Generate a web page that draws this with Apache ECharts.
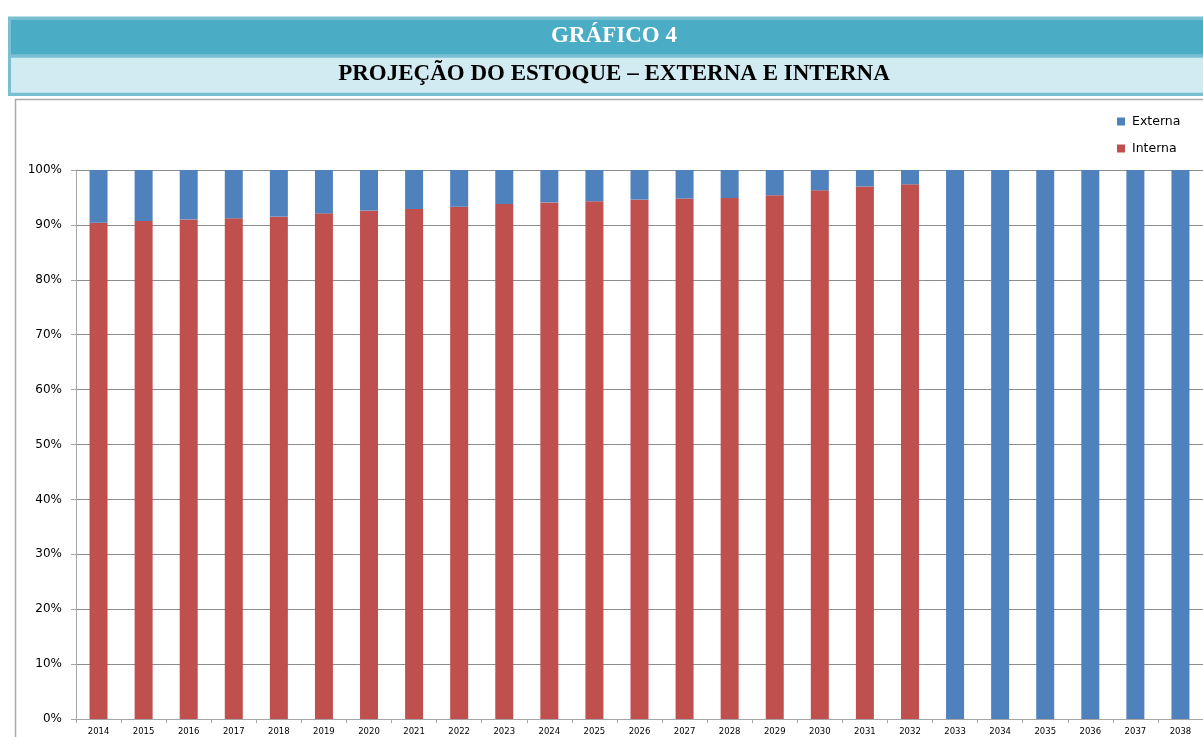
<!DOCTYPE html>
<html>
<head>
<meta charset="utf-8">
<script src="https://cdn.jsdelivr.net/npm/echarts@6/dist/echarts.min.js"></script>
<style>
html,body{margin:0;padding:0;background:#fff;}
#chart{width:1203px;height:737px;}
</style>
</head>
<body>
<div id="chart"></div>
<script>
const years = ['2014','2015','2016','2017','2018','2019','2020','2021','2022','2023','2024','2025','2026','2027','2028','2029','2030','2031','2032','2033','2034','2035','2036','2037','2038'];
const interna = [90.4,90.7,91.0,91.2,91.5,92.1,92.6,92.9,93.3,93.8,94.1,94.3,94.6,94.8,94.9,95.4,96.3,97.0,97.4,0,0,0,0,0,0];
const externa = [9.6,9.3,9.0,8.8,8.5,7.9,7.4,7.1,6.7,6.2,5.9,5.7,5.4,5.2,5.1,4.6,3.7,3.0,2.6,100,100,100,100,100,100];
const yTicks = [0,10,20,30,40,50,60,70,80,90,100];
const titleMain = 'GRÁFICO 4';
const titleSub = 'PROJEÇÃO DO ESTOQUE – EXTERNA E INTERNA';

const chart = echarts.init(document.getElementById('chart'), null, {renderer:'canvas'});
const option = {
  animation:false,
  backgroundColor:'#ffffff',
  graphic:[
    {type:'rect', shape:{x:8,y:16.5,width:1210,height:79.5}, style:{fill:'#78BFD2'}, silent:true},
    {type:'rect', shape:{x:11,y:20,width:1210,height:34.3}, style:{fill:'#4BACC6'}, silent:true},
    {type:'rect', shape:{x:11,y:57.7,width:1210,height:35}, style:{fill:'#D2EAF1'}, silent:true},
    {type:'text', x:614, y:36, style:{text:titleMain, fill:'#ffffff', font:'bold 23px "Liberation Serif", "DejaVu Serif", serif', textAlign:'center', textVerticalAlign:'middle'}, silent:true},
    {type:'text', x:614, y:74, style:{text:titleSub, fill:'#000000', font:'bold 23px "Liberation Serif", "DejaVu Serif", serif', textAlign:'center', textVerticalAlign:'middle'}, silent:true},
    {type:'line', shape:{x1:15.5,y1:99,x2:15.5,y2:740}, style:{stroke:'#ABABAB', lineWidth:1.5}, silent:true},
    {type:'line', shape:{x1:15,y1:99.5,x2:1210,y2:99.5}, style:{stroke:'#ABABAB', lineWidth:1.5}, silent:true}
  ],
  legend:{
    orient:'vertical',
    left:1117, top:115,
    padding:0,
    itemWidth:8, itemHeight:8, itemGap:14,
    icon:'rect',
    data:['Externa','Interna'],
    textStyle:{fontFamily:'DejaVu Sans', fontSize:12.5, color:'#000', padding:[0,0,0,2]}
  },
  grid:{left:76, top:170, width:1133, height:549, containLabel:false},
  xAxis:{
    type:'category',
    data:years,
    axisLine:{lineStyle:{color:'#A6A6A6', width:1}},
    axisTick:{show:true, length:4, lineStyle:{color:'#A6A6A6'}},
    axisLabel:{fontFamily:'DejaVu Sans', fontSize:8.5, color:'#000', margin:8, interval:0}
  },
  yAxis:{
    type:'value',
    min:0, max:100, interval:10,
    axisLine:{show:true, lineStyle:{color:'#A6A6A6', width:1}},
    axisTick:{show:true, length:5, lineStyle:{color:'#A6A6A6'}},
    axisLabel:{fontFamily:'DejaVu Sans', fontSize:12, color:'#000', margin:14, formatter:function(v){return yTicks.indexOf(v)>=0 ? v+'%' : '';}},
    splitLine:{show:true, lineStyle:{color:'#8C8C8C', width:1}}
  },
  series:[
    {name:'Interna', type:'bar', stack:'total', data:interna, barWidth:18, itemStyle:{color:'#C0504D'}},
    {name:'Externa', type:'bar', stack:'total', data:externa, barWidth:18, itemStyle:{color:'#4F81BD'}}
  ]
};
chart.setOption(option);
</script>
</body>
</html>
